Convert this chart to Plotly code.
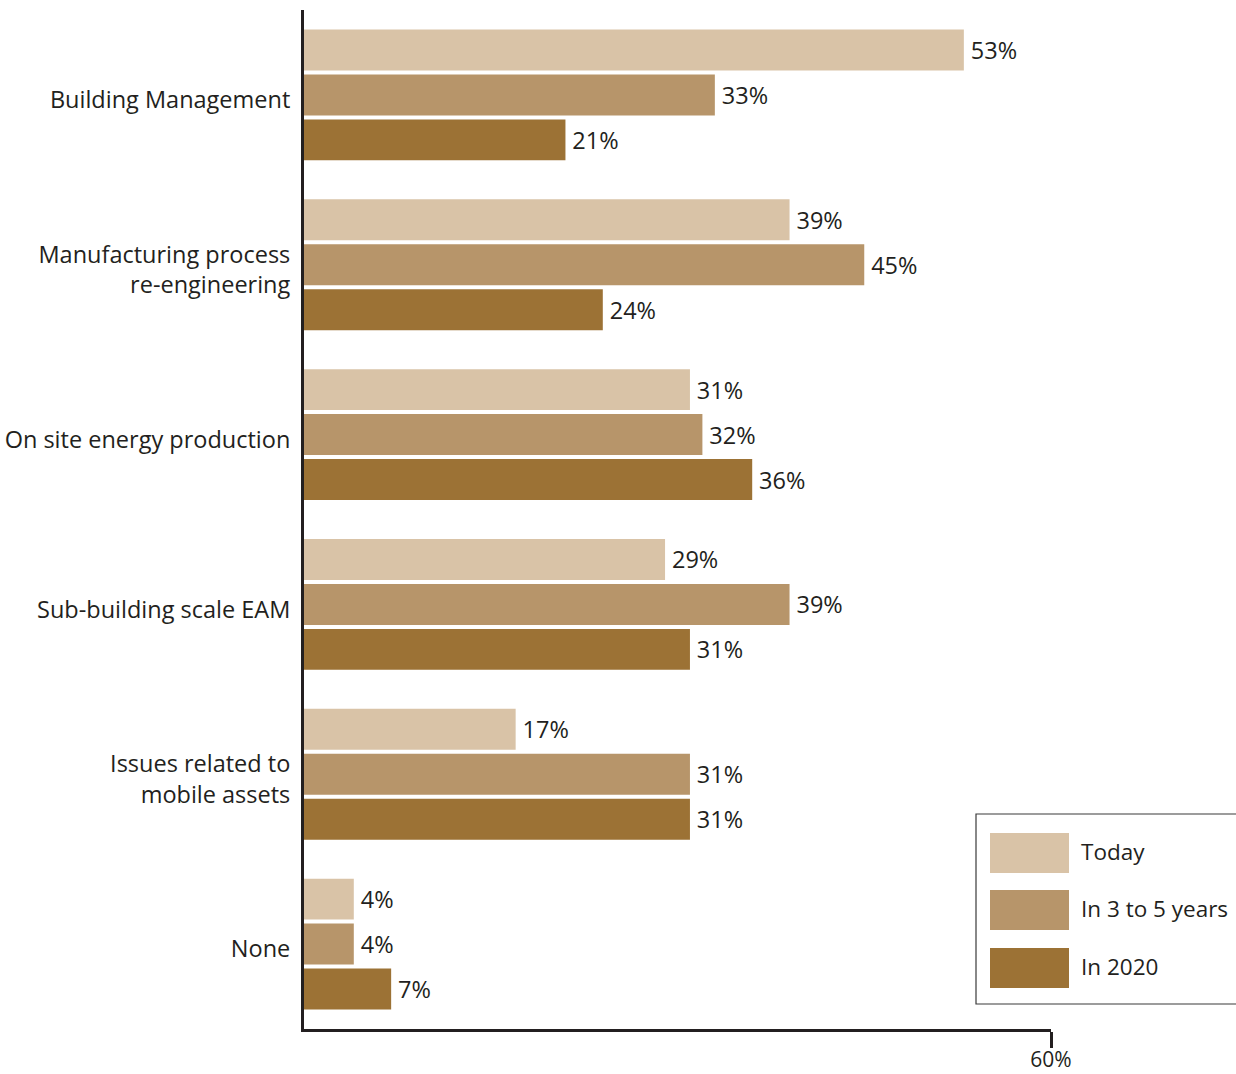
import plotly.graph_objects as go

categories = [
    "Building Management",
    "Manufacturing process<br>re-engineering",
    "On site energy production",
    "Sub-building scale EAM",
    "Issues related to<br>mobile assets",
    "None",
]
series_names = ["Today", "In 3 to 5 years", "In 2020"]
today = [53, 39, 31, 29, 17, 4]
in_3_to_5 = [33, 45, 32, 39, 31, 4]
in_2020 = [21, 24, 36, 31, 31, 7]
x_tick_vals = [60]
x_tick_text = ["60%"]

colors = ["#D9C3A7", "#B7956A", "#9C7235"]
values = [today, in_3_to_5, in_2020]
FONT = "Open Sans, sans-serif"
TXT = "#231F20"
FS = 23.5

W, H = 1236, 1074
ML, MT, MR, MB = 304, 10, 185, 45
PW, PH = W - ML - MR, H - MT - MB

fig = go.Figure()
for name, vals, c in zip(series_names, values, colors):
    fig.add_trace(go.Bar(
        y=categories, x=vals, orientation="h", name=name,
        marker=dict(color=c, line=dict(width=0)),
        text=[f"\u2009{v}%" for v in vals], textposition="outside",
        textfont=dict(family=FONT, size=FS, color=TXT),
        cliponaxis=False, showlegend=False,
    ))

def px(x):
    return (x - ML) / PW

def py(y):
    return (H - MB - y) / PH

shapes = [dict(type="rect", xref="paper", yref="paper",
               x0=px(976), x1=px(1260), y0=py(1004), y1=py(814),
               line=dict(color="#3a3a3a", width=1.2), fillcolor="white")]
annotations = []
legend_rows = [(833, 873), (890, 930), (948, 988)]
for (t, b), name, c in zip(legend_rows, series_names, colors):
    shapes.append(dict(type="rect", xref="paper", yref="paper",
                       x0=px(990), x1=px(1069), y0=py(b), y1=py(t),
                       line=dict(width=0), fillcolor=c))
    annotations.append(dict(xref="paper", yref="paper", x=px(1079), y=py((t + b) / 2 - 2),
                            text=name, showarrow=False, xanchor="left", yanchor="middle",
                            font=dict(family=FONT, size=22.5, color=TXT)))

fig.update_layout(
    width=W, height=H,
    margin=dict(l=ML, r=MR, t=MT, b=MB, pad=0, autoexpand=False),
    paper_bgcolor="white", plot_bgcolor="white",
    barmode="group", bargap=0.206, bargroupgap=0.089,
    font=dict(family=FONT, size=FS, color=TXT),
    shapes=shapes, annotations=annotations,
    xaxis=dict(range=[0, 60], tickvals=x_tick_vals, ticktext=x_tick_text,
               automargin=False,
               showgrid=False, zeroline=False, showline=True, linecolor=TXT, linewidth=3,
               ticks="outside", ticklen=16, tickwidth=3, tickcolor=TXT,
               ticklabelstandoff=-6,
               tickfont=dict(family=FONT, size=21, color=TXT)),
    yaxis=dict(autorange="reversed", showgrid=False, zeroline=False, automargin=False,
               showline=True, linecolor=TXT, linewidth=3, ticks="",
               ticklabelstandoff=6, ticklabelshift=-5,
               tickfont=dict(family=FONT, size=FS, color=TXT)),
)

fig.write_html("out.html")
